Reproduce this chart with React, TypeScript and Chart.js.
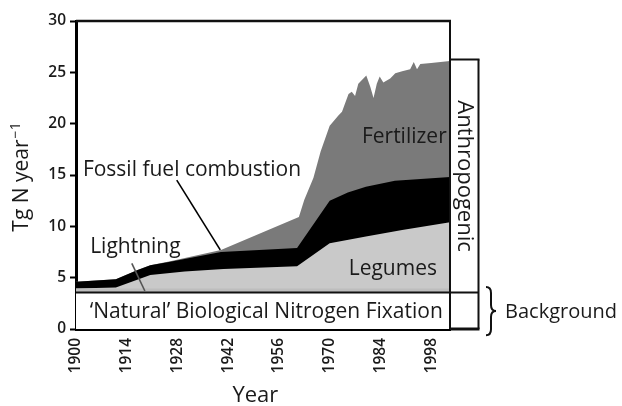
import React, { useEffect, useRef } from 'react';
import { Chart, registerables } from 'chart.js';

Chart.register(...registerables);

// ---- data (Tg N per year, cumulative top of each stacked layer) ----
const tickYears = [1900, 1914, 1928, 1942, 1956, 1970, 1984, 1998];

const naturalYears = [1900, 2003.2];
const naturalTop = [3.55, 3.55];

const lightningYears = [1900, 2003.2];
const lightningTop = [3.95, 3.95];

const legumeYears = [1900, 1911, 1920.5, 1930, 1940.7, 1961, 1970, 1980, 1990, 2003.2];
const legumeTop = [3.95, 4.05, 5.25, 5.6, 5.85, 6.1, 8.35, 9.0, 9.65, 10.4];

const fossilYears = [1900, 1911, 1917, 1920.5, 1926, 1940, 1961, 1970, 1975, 1980, 1988, 2003.2];
const fossilTop = [4.6, 4.85, 5.75, 6.2, 6.55, 7.5, 7.9, 12.5, 13.3, 13.85, 14.45, 14.8];

const fertilizerYears = [
  1900, 1911, 1917, 1920.5, 1926, 1940, 1961.5, 1963, 1965.5, 1967.5, 1970, 1971, 1972.4, 1973.4,
  1975.2, 1976.1, 1977, 1977.9, 1980.1, 1981.2, 1982.1, 1983, 1983.8, 1984.8, 1986.7, 1988.1,
  1990, 1992.2, 1993.2, 1994.1, 1995, 1998, 2003.2,
];
const fertilizerTop = [
  4.6, 4.85, 5.75, 6.2, 6.6, 7.7, 10.9, 12.6, 14.7, 17.3, 19.8, 20.2, 20.8, 21.15,
  22.9, 23.1, 22.7, 23.9, 24.7, 23.6, 22.5, 23.9, 24.6, 24.0, 24.4, 24.9,
  25.1, 25.3, 26.0, 25.3, 25.8, 25.9, 26.1,
];

const anthropogenicBoxTop = 26.25;

// ---- annotations (data coordinates) ----
const FONT = '"Open Sans", "Noto Sans", sans-serif';
const TEXT = '#1a1a1a';

type Note = { text: string; year: number; value: number; align: CanvasTextAlign; size: number };
const notes: Note[] = [
  { text: 'Fossil fuel combustion', year: 1901.9, value: 14.9, align: 'left', size: 21 },
  { text: 'Lightning', year: 1903.9, value: 7.4, align: 'left', size: 21 },
  { text: 'Fertilizer', year: 2002.3, value: 18.1, align: 'right', size: 21 },
  { text: 'Legumes', year: 1999.6, value: 5.25, align: 'right', size: 21 },
  { text: '\u2018Natural\u2019 Biological Nitrogen Fixation', year: 1952.5, value: 1.05, align: 'center', size: 21 },
  { text: 'Background', year: 2018.4, value: 1.07, align: 'left', size: 20 },
];
const leaders = [
  { from: [1927.8, 14.5], to: [1939.8, 7.7], color: '#000000' },
  { from: [1915.4, 6.39], to: [1919.0, 3.7], color: '#555555' },
];

const series = (xs: number[], ys: number[]) => xs.map((x, i) => ({ x, y: ys[i] }));

const overlay = {
  id: 'overlay',
  afterDraw(chart: any) {
    const { ctx, chartArea: ca, scales } = chart;
    const X = (v: number) => scales.x.getPixelForValue(v);
    const Y = (v: number) => scales.y.getPixelForValue(v);
    const line = (x1: number, y1: number, x2: number, y2: number) => {
      ctx.beginPath();
      ctx.moveTo(x1, y1);
      ctx.lineTo(x2, y2);
      ctx.stroke();
    };
    ctx.save();
    ctx.strokeStyle = '#111';
    ctx.lineCap = 'butt';
    // frame
    ctx.lineWidth = 2.5;
    line(ca.left, ca.top, ca.right + 1, ca.top);
    ctx.lineWidth = 2;
    line(ca.right, ca.top, ca.right, ca.bottom);
    const boxR = ca.right + 28.5;
    const yNat = Y(naturalTop[0]);
    const yAnth = Y(anthropogenicBoxTop);
    line(ca.left, yNat, boxR, yNat);
    line(ca.right, yAnth, boxR + 1, yAnth);
    line(boxR, yAnth, boxR, ca.bottom);
    ctx.lineWidth = 3;
    line(ca.right, ca.bottom, boxR + 1, ca.bottom);

    // leader lines
    ctx.lineWidth = 1.6;
    leaders.forEach((l) => {
      ctx.strokeStyle = l.color;
      line(X(l.from[0]), Y(l.from[1]), X(l.to[0]), Y(l.to[1]));
    });

    // brace
    ctx.strokeStyle = '#111';
    ctx.lineWidth = 2;
    const bx = ca.right + 36;
    const bTop = Y(4.1), bBot = Y(-0.6), bMid = (bTop + bBot) / 2;
    ctx.beginPath();
    ctx.moveTo(bx, bTop);
    ctx.quadraticCurveTo(bx + 5, bTop, bx + 5, bTop + 6);
    ctx.lineTo(bx + 5, bMid - 6);
    ctx.quadraticCurveTo(bx + 5, bMid, bx + 10, bMid);
    ctx.quadraticCurveTo(bx + 5, bMid, bx + 5, bMid + 6);
    ctx.lineTo(bx + 5, bBot - 6);
    ctx.quadraticCurveTo(bx + 5, bBot, bx, bBot);
    ctx.stroke();

    // text notes
    ctx.fillStyle = TEXT;
    ctx.textBaseline = 'alphabetic';
    notes.forEach((n) => {
      ctx.font = `${n.size}px ${FONT}`;
      ctx.textAlign = n.align;
      ctx.fillText(n.text, X(n.year), Y(n.value));
    });

    // Anthropogenic (rotated, reading downward)
    ctx.save();
    ctx.translate((ca.right + boxR) / 2, (yAnth + yNat) / 2);
    ctx.rotate(Math.PI / 2);
    ctx.font = `22px ${FONT}`;
    ctx.textAlign = 'center';
    ctx.textBaseline = 'middle';
    ctx.fillText('Anthropogenic', 0, 0);
    ctx.restore();

    // x-axis title
    ctx.font = `22px ${FONT}`;
    ctx.textAlign = 'center';
    ctx.textBaseline = 'alphabetic';
    ctx.fillText('Year', X(1949.5), ca.bottom + 73);

    // y-axis title with superscript
    ctx.save();
    ctx.translate(22, (ca.top + ca.bottom) / 2 + 2);
    ctx.rotate(-Math.PI / 2);
    const main = 'Tg N year';
    const sup = '\u22121';
    ctx.font = `21px ${FONT}`;
    const w1 = ctx.measureText(main).width;
    ctx.font = `14px ${FONT}`;
    const w2 = ctx.measureText(sup).width;
    const start = -(w1 + w2 + 1) / 2;
    ctx.textAlign = 'left';
    ctx.textBaseline = 'alphabetic';
    ctx.font = `21px ${FONT}`;
    ctx.fillText(main, start, 6);
    ctx.font = `14px ${FONT}`;
    ctx.fillText(sup, start + w1 + 1, -2);
    ctx.restore();

    ctx.restore();
  },
};

export default function App() {
  const ref = useRef<HTMLCanvasElement>(null);
  useEffect(() => {
    const layer = (label: string, xs: number[], ys: number[], color: string) => ({
      label,
      data: series(xs, ys),
      fill: 'origin',
      backgroundColor: color,
      borderWidth: 0,
      pointRadius: 0,
      tension: 0,
    });
    const chart = new Chart(ref.current as HTMLCanvasElement, {
      type: 'line',
      data: {
        datasets: [
          layer("'Natural' Biological Nitrogen Fixation", naturalYears, naturalTop, '#ffffff'),
          layer('Lightning', lightningYears, lightningTop, '#bdbdbd'),
          layer('Legumes', legumeYears, legumeTop, '#c9c9c9'),
          layer('Fossil fuel combustion', fossilYears, fossilTop, '#000000'),
          layer('Fertilizer', fertilizerYears, fertilizerTop, '#7a7a7a'),
        ] as any,
      },
      options: {
        responsive: false,
        animation: false,
        layout: { padding: { left: 0, right: 172, top: 21, bottom: 0 } },
        plugins: { legend: { display: false }, tooltip: { enabled: false } },
        scales: {
          x: {
            type: 'linear',
            min: 1900,
            max: 2003.2,
            z: 1,
            afterFit: (s: any) => {
              s.height = 77;
            },
            afterBuildTicks: (s: any) => {
              s.ticks = tickYears.map((v) => ({ value: v }));
            },
            ticks: {
              autoSkip: false,
              minRotation: 90,
              maxRotation: 90,
              padding: 9,
              color: TEXT,
              font: { family: FONT, size: 15.5, weight: '600' },
              callback: (v: any) => String(v),
            },
            grid: { drawOnChartArea: false, drawTicks: false },
            border: { color: '#000', width: 3 },
          },
          y: {
            min: 0,
            max: 30,
            z: 1,
            afterFit: (s: any) => {
              s.width = 76;
            },
            ticks: {
              stepSize: 5,
              padding: 4,
              color: TEXT,
              font: { family: FONT, size: 15.5, weight: '600' },
            },
            grid: { drawOnChartArea: false, tickLength: 6, tickWidth: 2, tickColor: '#000' },
            border: { color: '#000', width: 3 },
          },
        },
      } as any,
      plugins: [overlay],
    });
    return () => chart.destroy();
  }, []);
  return (
    <div style={{ position: 'absolute', left: 0, top: 0, width: 622, height: 406 }}>
      <canvas ref={ref} width={622} height={406} style={{ display: 'block' }} />
    </div>
  );
}
